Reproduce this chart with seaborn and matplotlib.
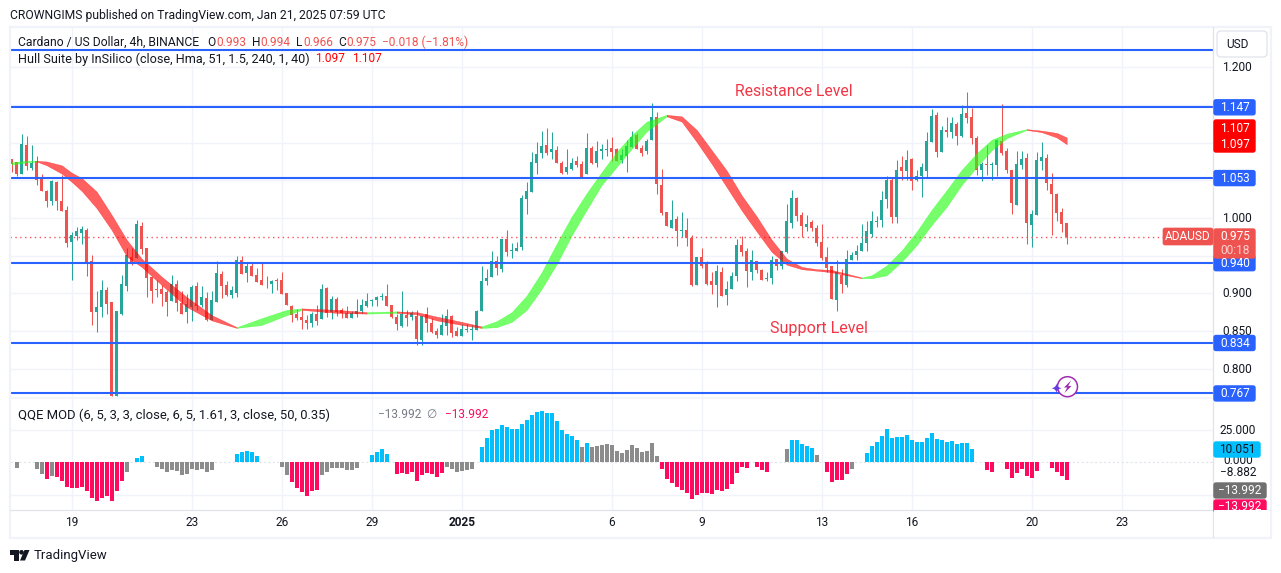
import numpy as np
import pandas as pd
import matplotlib
import matplotlib.pyplot as plt
import seaborn as sns
from matplotlib.patches import Rectangle, FancyBboxPatch, Circle, Polygon

matplotlib.use('Agg')

# candles, 4h bars, one row = 10 bars
highs = [1.078,1.074,1.112,1.109,1.097,1.082,1.059,1.037,1.050,1.049,
         1.057,1.016,0.981,0.988,0.989,0.987,0.951,0.903,0.917,0.908,
         0.888,0.876,0.924,0.960,0.960,0.997,0.995,0.960,0.922,0.917,
         0.911,0.904,0.924,0.917,0.903,0.899,0.911,0.915,0.910,0.902,
         0.903,0.943,0.929,0.916,0.910,0.949,0.949,0.941,0.940,0.933,
         0.940,0.923,0.917,0.920,0.928,0.900,0.884,0.879,0.878,0.871,
         0.875,0.884,0.913,0.908,0.896,0.895,0.880,0.883,0.876,0.892,
         0.892,0.900,0.892,0.896,0.900,0.912,0.884,0.872,0.903,0.878,
         0.876,0.878,0.870,0.882,0.867,0.854,0.872,0.879,0.871,0.855,
         0.859,0.859,0.858,0.878,0.936,0.932,0.956,0.949,0.972,0.984,
         0.967,0.968,1.030,1.048,1.088,1.101,1.116,1.119,1.114,1.096,
         1.076,1.092,1.080,1.082,1.076,1.113,1.096,1.102,1.098,1.105,
         1.108,1.093,1.092,1.104,1.116,1.113,1.097,1.105,1.153,1.141,
         1.065,1.008,1.024,1.003,1.008,1.000,0.977,0.948,0.960,0.943,
         0.928,0.937,0.935,0.916,0.928,0.972,0.976,0.960,0.957,0.943,
         0.932,0.928,0.949,0.945,0.956,1.018,1.037,1.028,1.008,1.004,
         0.997,0.991,0.992,0.961,0.936,0.944,0.932,0.957,0.955,0.964,
         0.992,0.996,1.009,1.003,1.036,1.056,1.053,1.077,1.082,1.090,
         1.080,1.064,1.073,1.114,1.145,1.141,1.122,1.134,1.134,1.127,
         1.150,1.167,1.146,1.109,1.074,1.097,1.074,1.105,1.151,1.093,
         1.064,1.089,1.089,1.086,1.010,1.088,1.101,1.085,1.060,1.033,
         1.013,0.994]
body_high = [1.078,1.074,1.098,1.097,1.073,1.076,1.053,1.036,1.049,1.048,
             1.022,1.011,0.977,0.983,0.985,0.984,0.943,0.882,0.904,0.904,
             0.888,0.876,0.912,0.951,0.948,0.992,0.989,0.960,0.921,0.906,
             0.906,0.902,0.913,0.912,0.887,0.886,0.908,0.910,0.895,0.894,
             0.891,0.927,0.925,0.911,0.904,0.944,0.944,0.936,0.936,0.924,
             0.917,0.913,0.916,0.917,0.917,0.900,0.883,0.872,0.868,0.864,
             0.872,0.872,0.906,0.907,0.892,0.892,0.878,0.874,0.874,0.876,
             0.884,0.890,0.891,0.895,0.896,0.896,0.884,0.868,0.872,0.871,
             0.874,0.870,0.870,0.872,0.860,0.850,0.858,0.870,0.870,0.850,
             0.852,0.852,0.852,0.876,0.916,0.920,0.943,0.943,0.972,0.972,
             0.957,0.960,1.026,1.036,1.074,1.085,1.096,1.097,1.092,1.090,
             1.073,1.068,1.073,1.076,1.072,1.093,1.093,1.089,1.092,1.092,
             1.093,1.092,1.084,1.096,1.108,1.110,1.093,1.102,1.134,1.134,
             1.044,1.008,0.997,0.999,0.984,0.984,0.973,0.948,0.948,0.940,
             0.916,0.929,0.928,0.906,0.923,0.964,0.964,0.956,0.944,0.943,
             0.931,0.920,0.944,0.945,0.956,0.996,1.026,1.026,1.004,0.992,
             0.995,0.987,0.968,0.948,0.936,0.928,0.924,0.945,0.951,0.956,
             0.967,0.983,0.996,0.996,1.024,1.050,1.050,1.064,1.068,1.077,
             1.078,1.056,1.068,1.102,1.135,1.137,1.117,1.117,1.126,1.125,
             1.138,1.139,1.134,1.106,1.072,1.072,1.072,1.103,1.102,1.089,
             1.064,1.072,1.078,1.080,1.005,1.077,1.081,1.080,1.045,1.032,
             1.008,0.993]
body_low = [1.072,1.058,1.058,1.069,1.066,1.050,1.036,1.022,1.022,1.022,
            1.009,0.967,0.968,0.976,0.980,0.942,0.875,0.875,0.882,0.886,
            0.764,0.764,0.872,0.910,0.941,0.947,0.959,0.920,0.903,0.904,
            0.899,0.888,0.890,0.887,0.872,0.875,0.882,0.883,0.884,0.864,
            0.864,0.888,0.910,0.898,0.898,0.900,0.925,0.927,0.923,0.915,
            0.911,0.912,0.912,0.916,0.899,0.884,0.871,0.867,0.864,0.860,
            0.860,0.863,0.866,0.874,0.875,0.875,0.874,0.867,0.867,0.872,
            0.876,0.883,0.890,0.891,0.895,0.883,0.868,0.859,0.856,0.867,
            0.868,0.839,0.838,0.860,0.848,0.844,0.844,0.856,0.847,0.843,
            0.843,0.851,0.851,0.851,0.876,0.916,0.921,0.933,0.932,0.955,
            0.956,0.956,0.961,1.025,1.034,1.073,1.086,1.086,1.088,1.073,
            1.060,1.061,1.065,1.070,1.054,1.058,1.073,1.073,1.089,1.090,
            1.088,1.076,1.077,1.082,1.094,1.092,1.086,1.089,1.104,1.045,
            1.007,0.989,0.987,0.983,0.983,0.973,0.911,0.911,0.936,0.912,
            0.911,0.911,0.896,0.898,0.906,0.923,0.955,0.929,0.928,0.931,
            0.917,0.919,0.920,0.936,0.936,0.955,0.993,1.003,0.989,0.988,
            0.987,0.967,0.947,0.933,0.893,0.891,0.912,0.911,0.944,0.951,
            0.956,0.967,0.979,0.995,0.997,1.025,1.001,1.001,1.062,1.062,
            1.049,1.050,1.056,1.062,1.101,1.088,1.088,1.114,1.114,1.109,
            1.109,1.133,1.106,1.064,1.064,1.070,1.070,1.070,1.086,1.064,
            1.020,1.017,1.070,0.993,0.991,1.004,1.076,1.046,1.032,1.006,
            0.992,0.975]
lows = [1.061,1.056,1.058,1.064,1.064,1.044,1.036,1.014,1.017,1.011,
        1.009,0.961,0.917,0.971,0.965,0.923,0.858,0.848,0.868,0.872,
        0.764,0.764,0.871,0.903,0.937,0.947,0.952,0.895,0.887,0.895,
        0.883,0.870,0.890,0.876,0.872,0.860,0.863,0.878,0.882,0.863,
        0.864,0.888,0.894,0.896,0.894,0.895,0.925,0.915,0.923,0.915,
        0.911,0.907,0.900,0.904,0.899,0.884,0.862,0.864,0.852,0.852,
        0.855,0.858,0.866,0.868,0.866,0.870,0.867,0.867,0.867,0.868,
        0.874,0.882,0.883,0.883,0.891,0.883,0.867,0.851,0.855,0.856,
        0.864,0.831,0.831,0.848,0.847,0.840,0.844,0.844,0.842,0.843,
        0.843,0.848,0.838,0.851,0.876,0.911,0.921,0.924,0.928,0.949,
        0.947,0.956,0.957,1.005,1.034,1.058,1.080,1.084,1.078,1.073,
        1.058,1.058,1.064,1.068,1.053,1.058,1.072,1.068,1.078,1.082,
        1.076,1.076,1.073,1.061,1.094,1.092,1.082,1.085,1.104,1.032,
        1.004,0.989,0.987,0.963,0.975,0.963,0.910,0.911,0.933,0.911,
        0.899,0.882,0.896,0.884,0.906,0.916,0.949,0.908,0.917,0.927,
        0.917,0.916,0.913,0.931,0.932,0.953,0.987,0.996,0.975,0.983,
        0.983,0.963,0.944,0.928,0.893,0.876,0.901,0.908,0.944,0.944,
        0.956,0.956,0.975,0.988,0.988,1.013,0.993,0.993,1.050,1.050,
        1.037,1.049,1.028,1.054,1.101,1.081,1.088,1.107,1.106,1.097,
        1.107,1.126,1.098,1.057,1.049,1.057,1.050,1.056,1.084,1.060,
        1.005,1.017,1.065,0.965,0.961,1.004,1.064,1.037,0.977,0.996,
        0.981,0.966]
rising = [2,4,8,12,13,14,17,18,21,22,23,25,32,35,36,38,40,41,44,45,47,52,60,62,64,
          68,69,70,71,72,73,74,78,80,82,86,87,90,91,92,93,94,95,96,98,100,101,102,
          103,104,105,106,108,111,112,115,117,118,119,122,123,124,127,128,132,134,
          137,141,143,144,145,148,151,152,154,155,156,159,165,167,168,169,170,171,
          172,173,174,175,177,179,181,182,183,184,186,188,190,194,196,197,201,202,
          204,205,206]

# hull ribbon, read every few bars
hull_idx = [0,3,5,7,10,12,14,17,20,23,26,30,35,40,45,50,55,58,65,71,77,81,85,90,94,97,
            100,103,106,109,112,115,118,121,124,127,131,134,137,140,143,146,149,152,155,
            158,161,164,170,172,175,178,181,184,187,190,193,196,199,203,206,209,211]
hull_top = [1.074,1.076,1.076,1.075,1.070,1.060,1.053,1.035,1.004,0.971,0.946,0.922,0.895,
            0.871,0.855,0.867,0.878,0.880,0.878,0.875,0.876,0.875,0.869,0.862,0.856,0.863,
            0.875,0.897,0.928,0.966,1.002,1.033,1.061,1.088,1.110,1.128,1.137,1.135,1.117,
            1.090,1.063,1.030,1.002,0.971,0.946,0.935,0.932,0.931,0.921,0.924,0.937,0.957,
            0.982,1.011,1.037,1.064,1.086,1.104,1.112,1.118,1.116,1.113,1.107]
hull_bot = [1.071,1.074,1.075,1.070,1.059,1.048,1.036,1.013,0.984,0.949,0.935,0.911,0.882,
            0.864,0.854,0.858,0.871,0.878,0.874,0.873,0.874,0.872,0.864,0.858,0.854,0.855,
            0.862,0.878,0.906,0.939,0.977,1.011,1.044,1.068,1.092,1.115,1.135,1.128,1.101,
            1.072,1.041,1.010,0.982,0.955,0.938,0.932,0.930,0.928,0.920,0.920,0.924,0.942,
            0.964,0.991,1.015,1.044,1.068,1.090,1.106,1.117,1.114,1.107,1.098]
hull_turns = [0,5,45,58,71,77,94,131,170,203,211]

# QQE histogram, None = no bar
qqe_values = [None,-4.4,None,None,None,-5,-9,-13,-10.7,-11.7,
              -14.3,-19.3,-20,-20,-19.3,-22.4,-27.9,-30.2,-27.9,-26.3,
              -30.2,-22.4,-14.6,-7.6,None,3.4,4.9,None,None,-3.6,
              -5.2,-7.6,-6,-6.8,-9.6,-9.1,-5.2,-6,-5.5,-7.3,
              -6,None,None,None,None,6.5,7.8,8.9,7.6,4.9,
              None,None,None,None,-3.4,-9.6,-15.4,-20,-23,-26.3,
              -22.4,-21.6,-9.6,-7.6,-4.4,-4.4,-4.4,-6,-6,-4.4,
              None,None,5.7,8,10.4,6.5,None,-8.9,-8.3,-8.9,
              -7.6,-14.6,-9.9,-8.3,-9.1,-11.5,-8.3,-3.6,-5.2,-7.6,
              -6.8,-6,-5.2,None,12,19,25.3,25.8,29.2,27.6,
              26,26,30,33,36.7,39.3,40,38.5,38.5,32.3,
              25.3,21.6,20.6,17.4,12,15,12,12.8,13.6,13.8,
              13.3,8.9,7.3,9.6,13.5,11.2,8.1,8.9,15,4.9,
              -5.2,-13,-16.1,-19.3,-21.6,-24,-28.6,-25.5,-24,-24,
              -24.7,-21.6,-22.4,-20.8,-16.9,-8.3,-3.6,-4.4,None,-3.6,
              -6,-7.6,None,None,None,10.4,17.4,17.4,14.3,12.8,
              11.2,5.7,None,-7.6,-15.4,-13.8,-13.8,-9.1,-5.2,None,
              None,7.3,12.8,15.9,20.6,26,19,19.8,19.8,21.3,
              17.4,15.9,15.9,19,22.9,18.2,17.4,15.9,16.6,14.3,
              15,15,10.4,None,None,-6,-7.6,None,None,-5.2,
              -12.2,-8.3,-5.2,-10.7,-12.2,-6.8,None,None,-4.4,-7.6,
              -10.7,-14]
qqe_red = [7] + list(range(9,23)) + list(range(56,62)) + list(range(77,87)) + list(range(130,152)) \
    + list(range(163,168)) + [195,196] + list(range(199,206)) + list(range(208,212))
qqe_blue = [25,26] + list(range(45,50)) + list(range(72,76)) + list(range(94,114)) + [115] \
    + list(range(156,161)) + list(range(171,193))

levels = [1.223, 1.147, 1.053, 0.940, 0.834, 0.767]
last_price = 0.975
price_grid = [1.2, 1.15, 1.1, 1.05, 1.0, 0.95, 0.9, 0.85, 0.8]
price_labels = [1.2, 1.0, 0.9, 0.85, 0.8]
day_ticks = [12, 36, 54, 72, 90, 120, 138, 162, 180, 204, 222]
day_labels = ['19', '23', '26', '29', '2025', '6', '9', '13', '16', '20', '23']

UP = '#26a69a'
DOWN = '#ef5350'
BLUE = '#2962ff'
GRID = '#f0f3fa'
EDGE = '#e0e3eb'
INK = '#131722'

sns.set_theme(style='white')
plt.rcParams['font.family'] = ['Roboto', 'DejaVu Sans']

W, H = 1281, 573
fig = plt.figure(figsize=(W / 100, H / 100), dpi=100, facecolor='white')


def pane(x0, y0, x1, y1):
    return fig.add_axes([x0 / W, 1 - y1 / H, (x1 - x0) / W, (y1 - y0) / H])


def price_y(p):
    return 218 - (p - 1) * 753


# x limits so that bar n sits at 11.7 + 5n pixels
xlim = ((10 - 11.7) / 5, (1213 - 11.7) / 5)

# price pane
ax = pane(10, 27, 1213, 397)
x = np.arange(len(highs))
up = np.isin(x, rising)
colors = np.where(up, UP, DOWN)
body_high = np.array(body_high)
body_low = np.array(body_low)
ax.vlines(x, lows, highs, colors=colors, lw=0.75, zorder=2)
ax.bar(x, body_high - body_low, bottom=body_low, width=0.62, color=colors, linewidth=0, zorder=2.1)

hull = pd.DataFrame({'i': hull_idx, 'top': hull_top, 'bot': hull_bot})
for n in range(len(hull_turns) - 1):
    seg = hull[(hull.i >= hull_turns[n]) & (hull.i <= hull_turns[n + 1])]
    col = '#22ff11' if n % 2 == 0 else '#ff0000'
    ax.fill_between(seg.i, seg.bot, seg.top, color=col, alpha=0.62, linewidth=0.3, zorder=3)

ax.hlines(levels, *xlim, colors=BLUE, lw=1.5, zorder=4)
ax.hlines(last_price, xlim[0], (1163 - 11.7) / 5, colors='#f7525f', lw=1, linestyles=(0, (1, 2.5)), zorder=2.5)
ax.set_xlim(xlim)
ax.set_ylim(1 - (397 - 218) / 753, 1 - (27 - 218) / 753)
ax.set_xticks(day_ticks)
ax.set_yticks(price_grid)
ax.tick_params(length=0, labelbottom=False, labelleft=False)
ax.grid(True, color=GRID, lw=1)
ax.set_axisbelow(True)

# QQE pane
ax2 = pane(10, 398, 1213, 510)
qqe = pd.DataFrame({'i': x, 'value': qqe_values}).dropna()
qqe['state'] = np.where(qqe.i.isin(qqe_red), 'red', np.where(qqe.i.isin(qqe_blue), 'blue', 'grey'))
sns.barplot(data=qqe, x='i', y='value', hue='state', native_scale=True, dodge=False, width=0.8,
            palette={'red': '#ff0a5f', 'blue': '#00bfff', 'grey': '#8c8c8c'},
            saturation=1, linewidth=0, errorbar=None, legend=False, ax=ax2, zorder=3)
ax2.axhline(0, color=EDGE, lw=0.8, ls=(0, (2, 2)), zorder=2)
ax2.set_xlim(xlim)
ax2.set_ylim(-(510 - 462.3) / 1.29, (462.3 - 398) / 1.29)
ax2.set_xticks(day_ticks)
ax2.set_yticks([-25, 25])
ax2.set_xlabel('')
ax2.set_ylabel('')
ax2.tick_params(length=0, labelbottom=False, labelleft=False)
ax2.grid(True, color=GRID, lw=1)
ax2.set_axisbelow(True)

for a in (ax, ax2):
    for s in a.spines.values():
        s.set_visible(False)

# everything around the panes, in pixels
ov = fig.add_axes([0, 0, 1, 1], facecolor='none')
ov.set_xlim(0, W)
ov.set_ylim(H, 0)
ov.axis('off')


def label(px, py, s, color=INK, size=8.6, ha='left', z=10, **kw):
    return ov.text(px, py, s, color=color, fontsize=size, ha=ha, va='center', zorder=z, **kw)


def badge(y0, y1, color, x0=1214, x1=1255, z=8):
    ov.add_patch(FancyBboxPatch((x0, y0 + 1), x1 - x0, y1 - y0 - 2, boxstyle='round,pad=0,rounding_size=2',
                                mutation_aspect=1, fc=color, ec=color, lw=1, zorder=z))


# frame
ov.add_patch(Rectangle((9.5, 26.5), 1261, 511, fc='none', ec=GRID, lw=1.6, zorder=6))
ov.plot([1213, 1213], [27, 537], color=EDGE, lw=0.9, zorder=6)
ov.plot([10, 1270], [510, 510], color=EDGE, lw=0.9, zorder=6)
ov.plot([10, 1213], [397.5, 397.5], color=GRID, lw=1.2, zorder=6)

# header and legends
label(10, 15, 'CROWNGIMS published on TradingView.com, Jan 21, 2025 07:59 UTC', size=8.7)
label(18, 42, 'Cardano / US Dollar, 4h, BINANCE', size=8.75)
for px, s, c in [(207, 'O', INK), (216, '0.993', DOWN), (252, 'H', INK), (260, '0.994', DOWN),
                 (296, 'L', INK), (303, '0.966', DOWN), (338, 'C', INK), (346, '0.975', DOWN),
                 (382, '\u22120.018 (\u22121.81%)', DOWN)]:
    label(px, 42, s, c)
label(18, 59, 'Hull Suite by InSilico (close, Hma, 51, 1.5, 240, 1, 40)', size=9.1)
label(315, 59, '1.097', '#ff0000')
label(352, 59, '1.107', '#ff0000')
label(18, 415, 'QQE MOD (6, 5, 3, 3, close, 6, 5, 1.61, 3, close, 50, 0.35)', size=9.35)
label(378, 415, '\u221213.992', '#787b86')
label(426, 415, '\u2205', '#787b86')
label(445, 415, '\u221213.992', '#ff0a5f')

# chart notes
label(794, 91, 'Resistance Level', '#f23645', 11.3, ha='center')
label(819, 328, 'Support Level', '#f23645', 11.6, ha='center')

# right axis
ov.add_patch(FancyBboxPatch((1217, 31), 50, 26, boxstyle='round,pad=0,rounding_size=4',
                            fc='white', ec=EDGE, lw=0.9, zorder=7))
label(1237, 44, 'USD', ha='center')
for p in price_labels:
    label(1237, price_y(p) + 0.5, f'{p:.3f}', ha='center', z=7)

for p in [1.147, 1.053, 0.940, 0.834, 0.767]:
    y = price_y(p)
    badge(y - 8.5, y + 8.5, BLUE)
    label(1235, y + 0.5, f'{p:.3f}', 'white', ha='center')
badge(119, 153, '#ff0000')
label(1235, 128, '1.107', 'white', ha='center')
label(1235, 145, '1.097', 'white', ha='center')
badge(228, 259, DOWN, z=9)
label(1235, 237, '0.975', 'white', ha='center')
label(1235, 251, '00:18', '#fbd0d0', ha='center')
ov.add_patch(FancyBboxPatch((1163, 228), 50, 17, boxstyle='round,pad=0,rounding_size=2',
                            fc=DOWN, ec=DOWN, lw=0.5, zorder=9))
label(1188, 237, 'ADAUSD', 'white', ha='center')

# QQE axis
label(1238, 430, '25.000', ha='center', z=7)
label(1238, 461, '0.000', ha='center', z=7)
label(1238, 473, '\u22128.882', ha='center', z=7)
badge(441, 458, '#00bfff', x1=1260)
label(1237, 449.5, '10.051', ha='center')
badge(482, 499, '#707070', x1=1266)
label(1240, 491, '\u221213.992', 'white', ha='center')
badge(499, 513, '#ff0a5f', x1=1266)
label(1240, 507, '\u221213.992', 'white', ha='center')
ov.add_patch(Rectangle((1213.6, 510.4), 56, 26, fc='white', ec='none', zorder=11))

# date axis
for t, s in zip(day_ticks, day_labels):
    label(11.7 + 5 * t, 523, s, ha='center', fontweight='bold' if s == '2025' else 'normal')

# spark badge
ov.add_patch(Circle((1067.5, 386.7), 10, fc='white', ec='#a02cb0', lw=1.1, zorder=7))
ov.add_patch(Polygon([(1071, 380.5), (1064, 387.5), (1067.2, 387.5), (1064.5, 393), (1071.5, 386), (1068.2, 386)],
                     fc='#a02cb0', ec='none', zorder=8))
label(1056.5, 390.5, '\u2726', '#6a3ce0', 9.5, ha='center', family=['DejaVu Sans'])

# TradingView logo
ov.add_patch(Polygon([(10, 550), (18.5, 550), (18.5, 560.5), (14, 560.5), (14, 554.5), (10, 554.5)],
                     fc=INK, ec='none'))
ov.add_patch(Circle((21.5, 552.3), 2.3, fc=INK, ec='none'))
ov.add_patch(Polygon([(24.5, 550), (29.5, 550), (25, 560.5), (20, 560.5)], fc=INK, ec='none'))
label(34, 555.5, 'TradingView', size=9.5)

fig.savefig('out.png', dpi=100, facecolor='white')
